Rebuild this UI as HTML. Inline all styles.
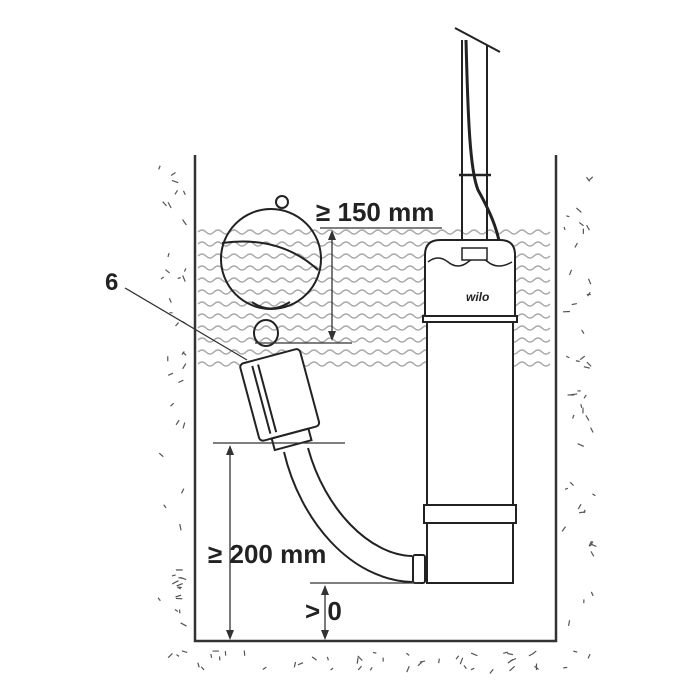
<!DOCTYPE html>
<html><head><meta charset="utf-8"><style>
html,body{margin:0;padding:0;background:#fff;width:700px;height:700px;overflow:hidden}
text{font-family:"Liberation Sans","DejaVu Sans",sans-serif;font-weight:bold;fill:#222}
</style></head><body>
<svg id="s" width="700" height="700" viewBox="0 0 700 700" xmlns="http://www.w3.org/2000/svg">
<g id="soil" stroke="#555" stroke-width="1.2"></g>
<g id="waves" fill="none" stroke="#aaa" stroke-width="1.4"></g>
<!-- pit -->
<path d="M195 155 V641 H556 V155" fill="none" stroke="#333" stroke-width="2.5"/>
<!-- pipe & cable -->
<g fill="none" stroke="#222" stroke-width="2">
<line x1="455" y1="28" x2="500" y2="52"/>
<line x1="462" y1="40" x2="462" y2="240"/>
<line x1="487" y1="45" x2="487" y2="240"/>
<path d="M466 40 C468 120 470 170 478 190 C492 215 500 235 502 260" stroke-width="3"/>
<line x1="459" y1="175" x2="491" y2="175" stroke-width="2.5"/>
</g>
<!-- pump -->
<g fill="#fff" stroke="#222" stroke-width="2">
<path d="M425 316 V255 Q425 240 440 240 H500 Q515 240 515 255 V316 Z"/>
<rect x="423" y="316" width="94" height="6"/>
<rect x="427" y="322" width="86" height="183"/>
<rect x="424" y="505" width="92" height="18"/>
<rect x="427" y="523" width="86" height="60"/>
<path d="M428 262 q10-8 20 0 q10 8 20 0 q10 -8 20 0 q10 8 24 0" fill="none" stroke-width="1.5"/>
<rect x="462" y="248" width="25" height="12" stroke-width="1.5"/>
<text x="466" y="301" font-size="12" stroke="none" fill="#555" font-style="italic">wilo</text>
</g>
<!-- float -->
<g fill="none" stroke="#222" stroke-width="2">
<circle cx="282" cy="202" r="6"/>
<circle cx="271" cy="259" r="50"/>
<path d="M222 243 Q280 235 318 270"/>
<path d="M252 302 Q270 315 290 302"/>
<ellipse cx="266" cy="333" rx="12" ry="13"/>
<g transform="rotate(-15 280 400)">
<rect x="250" y="355" width="62" height="80" rx="4" fill="#fff"/>
<line x1="262" y1="360" x2="262" y2="430"/>
<line x1="268" y1="360" x2="268" y2="430"/>
<rect x="262" y="435" width="38" height="12"/>
</g>
<path d="M284 452 C300 520 350 580 412 582"/>
<path d="M308 448 C325 510 370 555 412 556"/>
<rect x="413" y="555" width="12" height="28" rx="2" fill="#fff"/>
</g>
<!-- dims -->
<g stroke="#333" stroke-width="1.3" fill="#333">
<line x1="320" y1="228" x2="442" y2="228"/>
<line x1="255" y1="343" x2="352" y2="343"/>
<line x1="332" y1="232" x2="332" y2="339"/>
<path d="M332 230 l-4 10 h8z M332 341 l-4 -10 h8z" stroke="none"/>
<line x1="213" y1="443" x2="345" y2="443"/>
<line x1="230" y1="447" x2="230" y2="638"/>
<path d="M230 445 l-4 10 h8z M230 640 l-4 -10 h8z" stroke="none"/>
<line x1="310" y1="583" x2="420" y2="583"/>
<line x1="325" y1="586" x2="325" y2="638"/>
<path d="M325 585 l-4 10 h8z M325 640 l-4 -10 h8z" stroke="none"/>
<line x1="125" y1="288" x2="247" y2="360"/>
</g>
<text x="316" y="221" font-size="26">≥ 150 mm</text>
<text x="208" y="563" font-size="26">≥ 200 mm</text>
<text x="305" y="620" font-size="26">&gt; 0</text>
<text x="105" y="290" font-size="24">6</text>
</svg>
<script>
var NS="http://www.w3.org/2000/svg";
var w=document.getElementById("waves");
for(var y=232;y<=375;y+=12){var d="M198 "+y;for(var x=198;x<548;x+=16){d+=" q4 -4 8 0 q4 4 8 0";}
var p=document.createElementNS(NS,"path");p.setAttribute("d",d);w.appendChild(p);}
var seed=7;function r(){seed=(seed*16807)%2147483647;return seed/2147483647;}
var s=document.getElementById("soil");
function add(x,y){var a=r()*Math.PI,l=3+r()*4;var L=document.createElementNS(NS,"line");
L.setAttribute("x1",x);L.setAttribute("y1",y);L.setAttribute("x2",x+Math.cos(a)*l);L.setAttribute("y2",y+Math.sin(a)*l);s.appendChild(L);}
for(var i=0;i<45;i++){add(158+r()*28,165+r()*470);add(564+r()*30,165+r()*470);}
for(var i=0;i<45;i++){add(158+r()*435,650+r()*20);}
</script>
</body></html>
